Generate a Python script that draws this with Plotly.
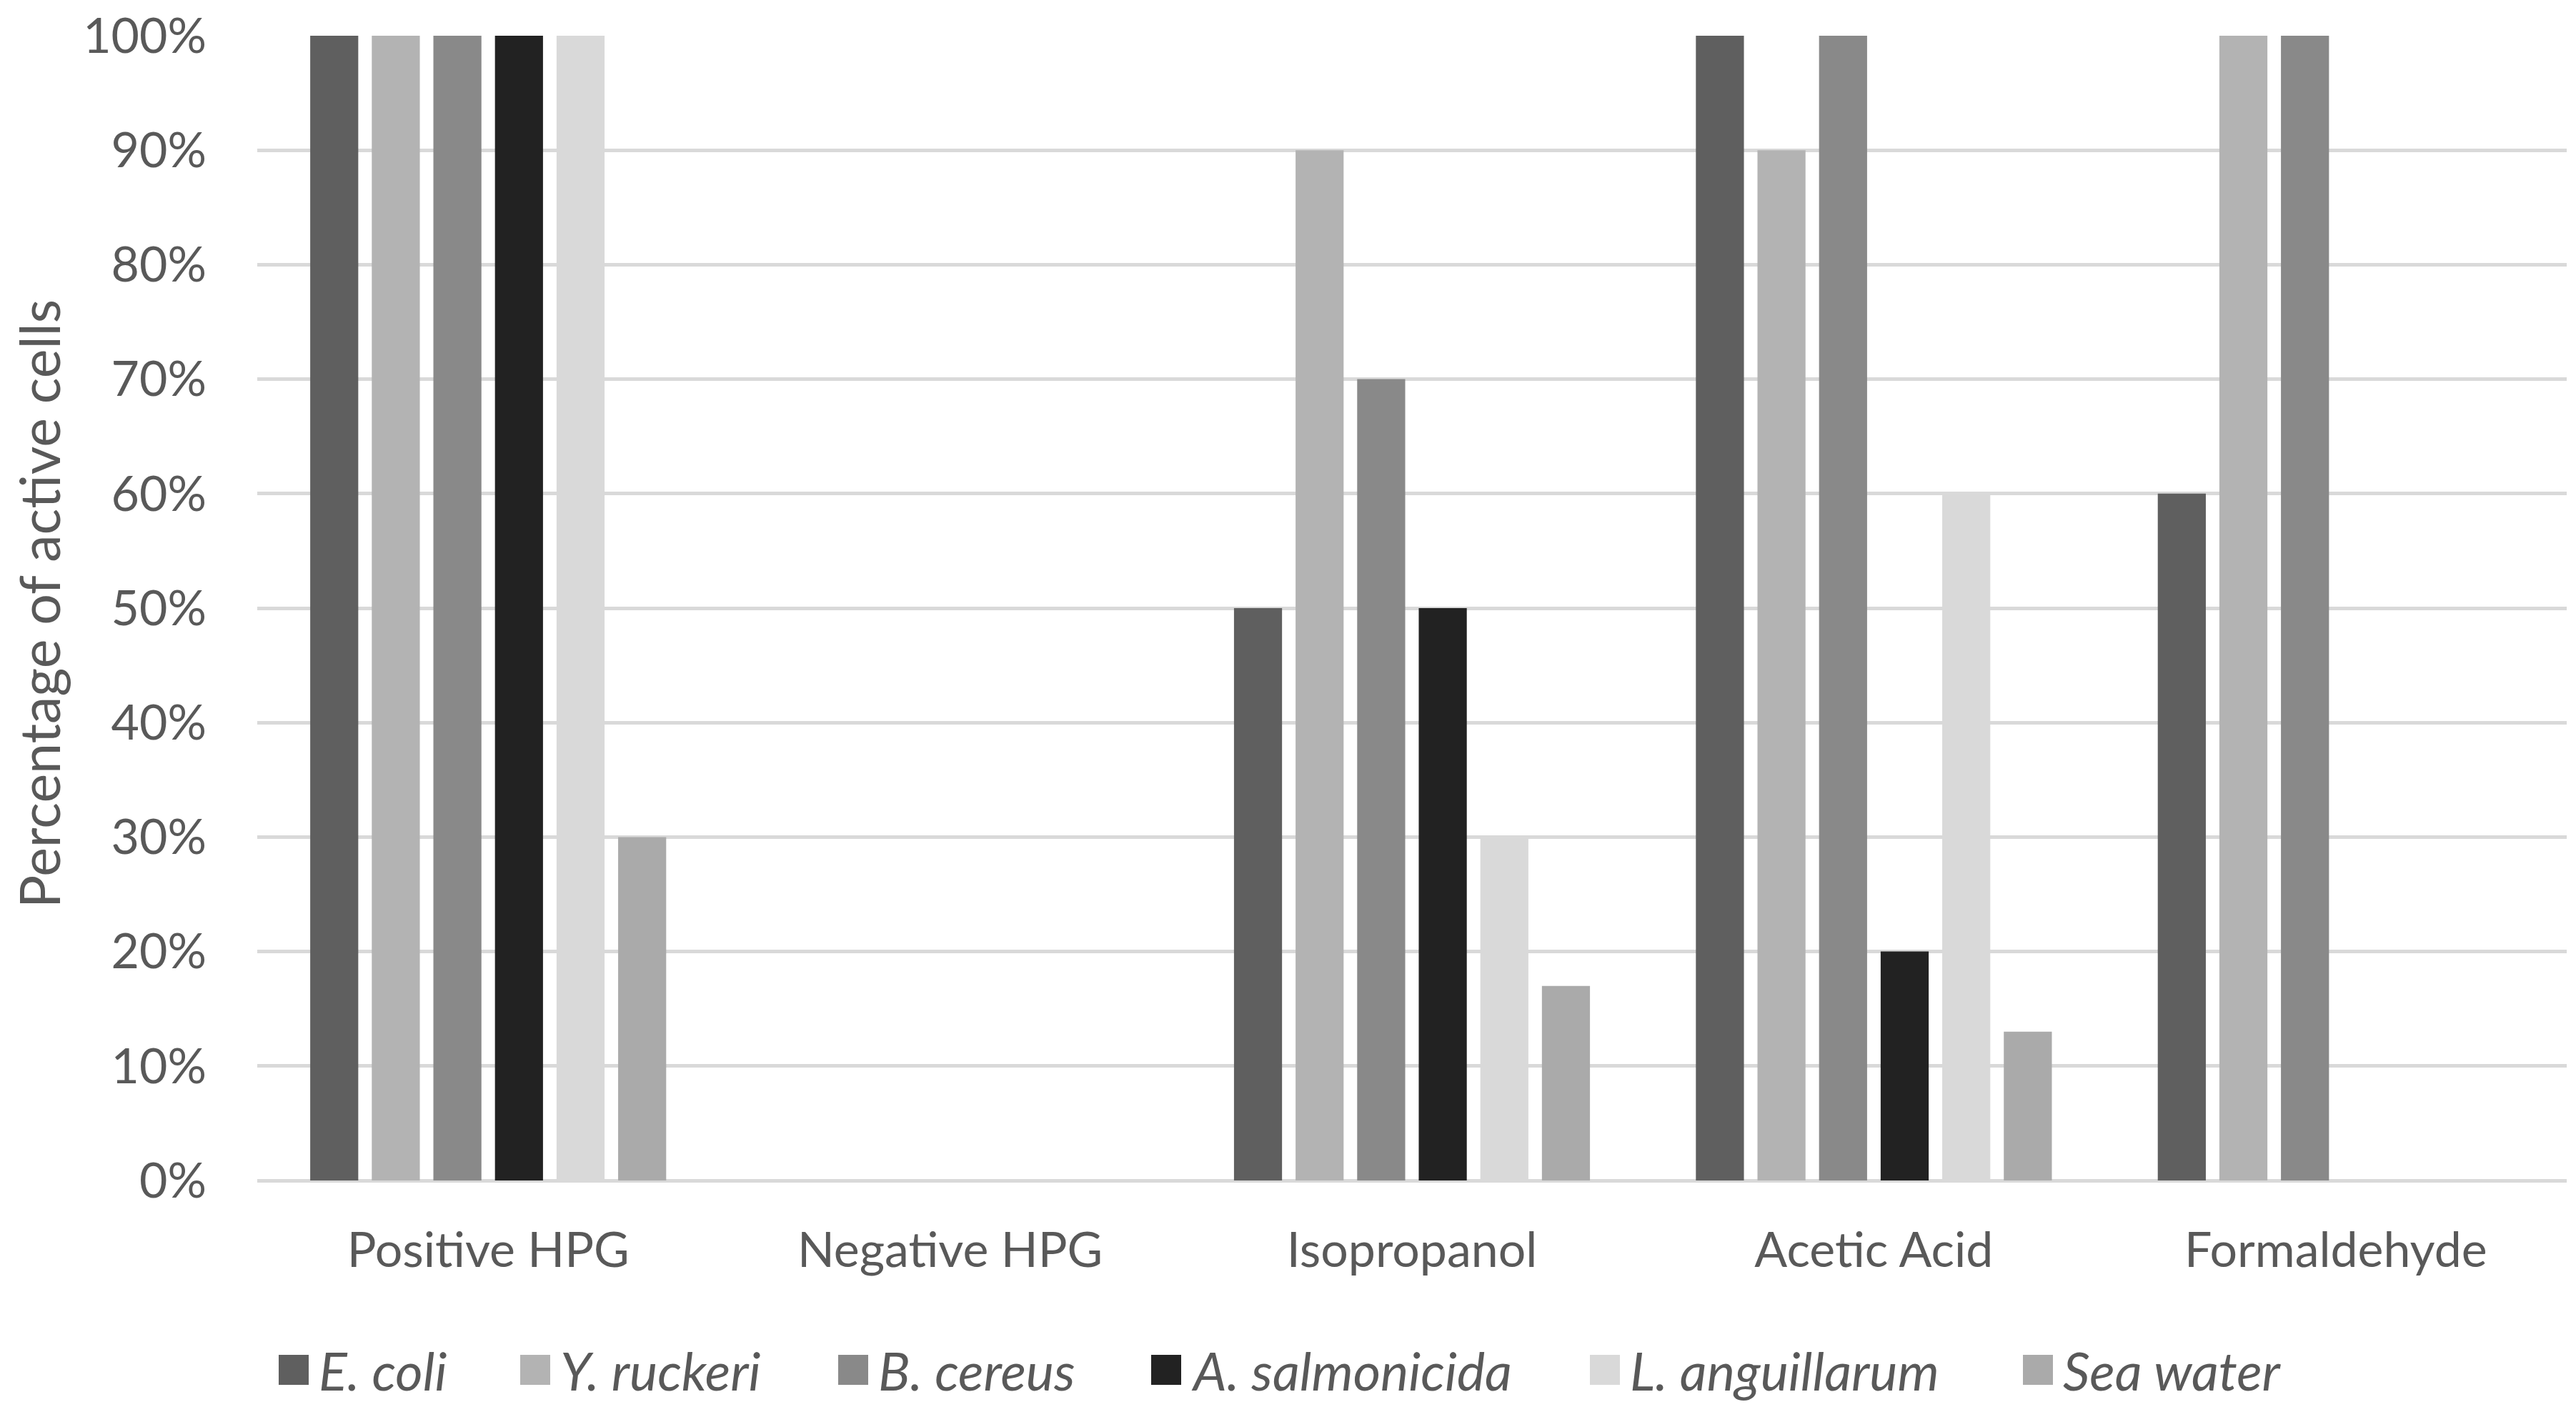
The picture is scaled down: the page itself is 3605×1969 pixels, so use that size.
import plotly.graph_objects as go

categories = ["Positive HPG", "Negative HPG", "Isopropanol", "Acetic Acid", "Formaldehyde"]
series_names = ["E. coli", "Y. ruckeri", "B. cereus", "A. salmonicida", "L. anguillarum", "Sea water"]
e_coli = [100, 0, 50, 100, 60]
y_ruckeri = [100, 0, 90, 90, 100]
b_cereus = [100, 0, 70, 100, 100]
a_salmonicida = [100, 0, 50, 20, 0]
l_anguillarum = [100, 0, 30, 60, 0]
sea_water = [30, 0, 17, 13, 0]
y_ticks = [0, 10, 20, 30, 40, 50, 60, 70, 80, 90, 100]
y_title = "Percentage of active cells"

series_values = [e_coli, y_ruckeri, b_cereus, a_salmonicida, l_anguillarum, sea_water]
colors = ["#5f5f5f", "#b3b3b3", "#898989", "#222222", "#d9d9d9", "#aaaaaa"]

# page body has an 8px margin, so figure coords = screen coords - 8
OFF = 8
W, H = 3605 - 2 * OFF, 1969 - OFF
ML, MT = 360 - OFF, 50 - OFF
MR = W - (3592 - OFF)
MB = H - (1652 - OFF)
PW = W - ML - MR
PH = H - MT - MB
FONT = "Lato"
TXT = "#595959"

fig = go.Figure()
for name, vals, col in zip(series_names, series_values, colors):
    fig.add_trace(go.Bar(x=categories, y=vals, name=name, marker=dict(color=col, line=dict(width=0)),
                         showlegend=False))

# manual legend (large square swatches like the original)
legend_sym_px = [390, 728, 1173, 1611, 2225, 2831]
legend_y_px = 1917
sym = 42
for name, col, px in zip(series_names, colors, legend_sym_px):
    fx = px - OFF
    xp = (fx - ML) / PW
    yp = (H - MB - (legend_y_px - OFF)) / PH
    fig.add_shape(type="rect", xref="paper", yref="paper", xsizemode="pixel", ysizemode="pixel",
                  xanchor=xp, yanchor=yp, x0=0, x1=sym, y0=-sym / 2, y1=sym / 2,
                  fillcolor=col, line=dict(width=0))
    fig.add_annotation(xref="paper", yref="paper", x=(fx + sym + 12 - ML) / PW, y=yp,
                       xanchor="left", yanchor="middle", showarrow=False,
                       text="<i>" + name + "</i>", font=dict(family=FONT, size=74, color=TXT))

# y-axis title placed where the original has it
fig.add_annotation(xref="paper", yref="paper", x=(54 - OFF - ML) / PW, y=(H - MB - (845 - OFF)) / PH,
                   xanchor="center", yanchor="middle", textangle=-90, showarrow=False,
                   text=y_title, font=dict(family=FONT, size=77, color=TXT))

fig.update_layout(
    width=W, height=H,
    margin=dict(l=ML, r=MR, t=MT, b=MB, autoexpand=False),
    paper_bgcolor="white", plot_bgcolor="white",
    barmode="group", bargap=0.2, bargroupgap=0.22,
    font=dict(family=FONT, size=68, color=TXT),
    showlegend=False,
)
fig.update_xaxes(showgrid=False, showline=False, ticks="", tickfont=dict(size=68, color=TXT),
                 ticklabelstandoff=52)
fig.update_yaxes(range=[0, 100], tickvals=y_ticks, ticktext=[f"{v}%" for v in y_ticks],
                 showgrid=True, gridcolor="#d9d9d9", gridwidth=5,
                 zeroline=True, zerolinecolor="#d9d9d9", zerolinewidth=5,
                 showline=False, ticks="", tickfont=dict(size=68, color=TXT),
                 ticklabelstandoff=70, ticklabeloverflow="allow")

fig.write_html("out.html")
